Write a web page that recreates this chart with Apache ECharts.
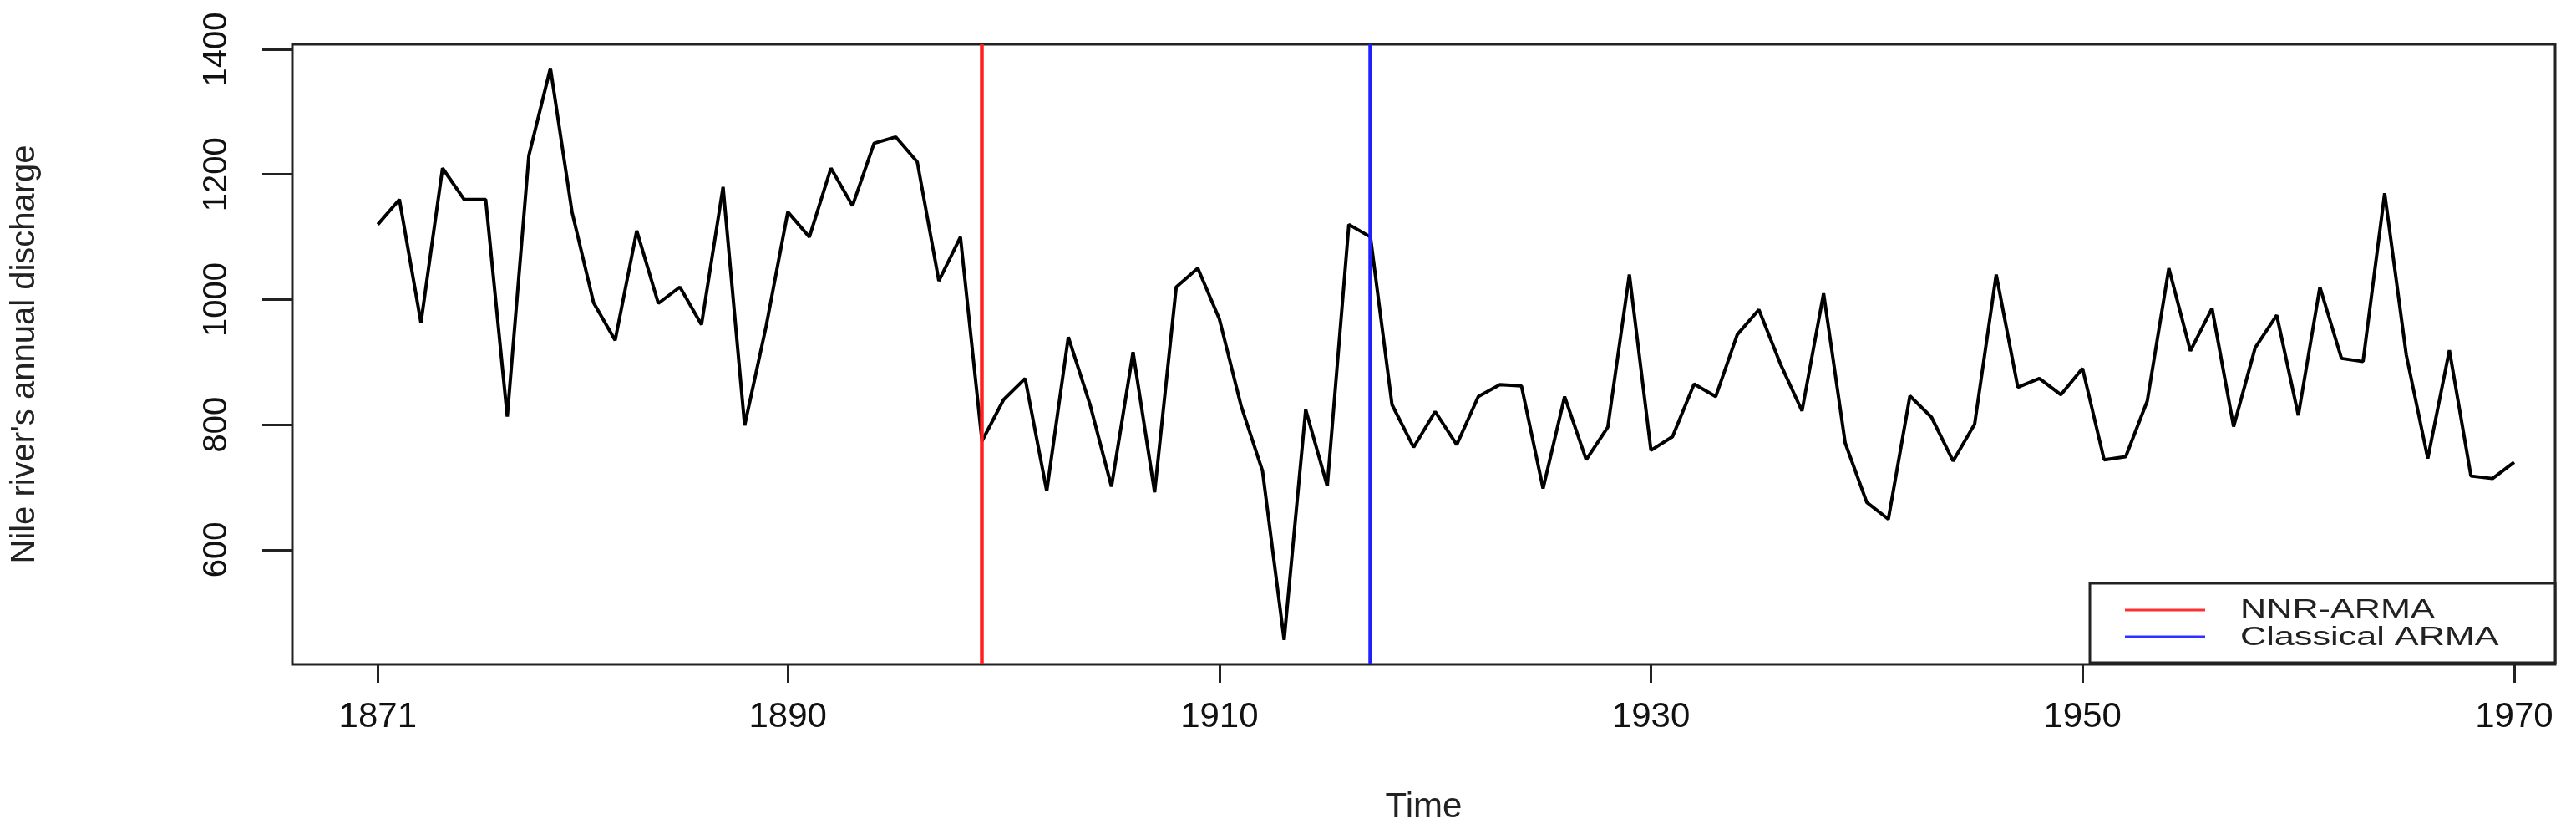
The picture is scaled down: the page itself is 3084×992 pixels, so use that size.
<!DOCTYPE html>
<html><head><meta charset="utf-8">
<script src="https://cdn.jsdelivr.net/npm/echarts@6/dist/echarts.min.js"></script>
<style>html,body{margin:0;padding:0;background:#fff}#c{width:3084px;height:992px}</style>
</head><body><div id="c"></div>
<script>
const years = [];
for (let y = 1871; y <= 1970; y++) years.push(y);
const discharge = [1120,1160,963,1210,1160,1160,813,1230,1370,1140,995,935,1110,994,1020,960,1180,799,958,1140,1100,1210,1150,1250,1260,1220,1030,1100,774,840,874,694,940,833,701,916,692,1020,1050,969,831,726,456,824,702,1120,1100,832,764,821,768,845,864,862,698,845,744,796,1040,759,781,865,845,944,984,897,822,1010,771,676,649,846,812,742,801,1040,860,874,848,890,744,749,838,1050,918,986,797,923,975,815,1020,906,901,1170,912,746,919,718,714,740];
const xTicks = [1871,1890,1910,1930,1950,1970];
const yTicks = [600,800,1000,1200,1400];
const breakNNR = 1899;
const breakARMA = 1917;
const legendNames = ['NNR-ARMA','Classical ARMA'];

const font = 'Liberation Sans, Arial, sans-serif';
const chart = echarts.init(document.getElementById('c'));
chart.setOption({
  animation:false,
  grid:{left:350,right:25,top:53,bottom:197,show:true,borderColor:'#222',borderWidth:3,backgroundColor:'transparent'},
  xAxis:{type:'value',min:1867.04,max:1971.9,
    name:'Time',nameLocation:'middle',nameGap:150,
    nameTextStyle:{fontFamily:font,fontSize:42,color:'#222'},
    axisLine:{show:false},splitLine:{show:false},
    axisTick:{show:true,customValues:xTicks,length:22,lineStyle:{color:'#222',width:3}},
    axisLabel:{customValues:xTicks,formatter:v=>String(v),fontFamily:font,fontSize:42,color:'#111',margin:42}},
  yAxis:{type:'value',min:417,max:1408,
    name:"Nile river's annual discharge",nameLocation:'middle',nameGap:300,nameRotate:90,
    nameTextStyle:{fontFamily:font,fontSize:40,color:'#222'},
    axisLine:{show:false},splitLine:{show:false},
    axisTick:{show:true,customValues:yTicks,length:36,lineStyle:{color:'#222',width:3}},
    axisLabel:{customValues:yTicks,formatter:v=>String(v),rotate:90,fontFamily:font,fontSize:40,color:'#111',margin:70}},
  series:[{type:'line',data:years.map((y,i)=>[y,discharge[i]]),symbol:'none',
    lineStyle:{color:'#000',width:4},
    markLine:{silent:true,symbol:['none','none'],label:{show:false},
      data:[{xAxis:breakNNR,lineStyle:{color:'#ff2020',width:4.5,type:'solid'}},
            {xAxis:breakARMA,lineStyle:{color:'#2020ff',width:4.5,type:'solid'}}]}}],
  graphic:[
    {type:'rect',shape:{x:2502,y:698,width:557,height:95},style:{fill:'#fff',stroke:'#222',lineWidth:3}},
    {type:'line',shape:{x1:2544,y1:730,x2:2640,y2:730},style:{stroke:'#ff3030',lineWidth:3}},
    {type:'line',shape:{x1:2544,y1:762,x2:2640,y2:762},style:{stroke:'#3030ff',lineWidth:3}},
    {type:'text',x:2682,y:730,scaleX:1.35,style:{text:legendNames[0],font:'32px '+font,fill:'#222',textVerticalAlign:'middle'}},
    {type:'text',x:2682,y:763,scaleX:1.35,style:{text:legendNames[1],font:'32px '+font,fill:'#222',textVerticalAlign:'middle'}}
  ]
});
</script></body></html>
